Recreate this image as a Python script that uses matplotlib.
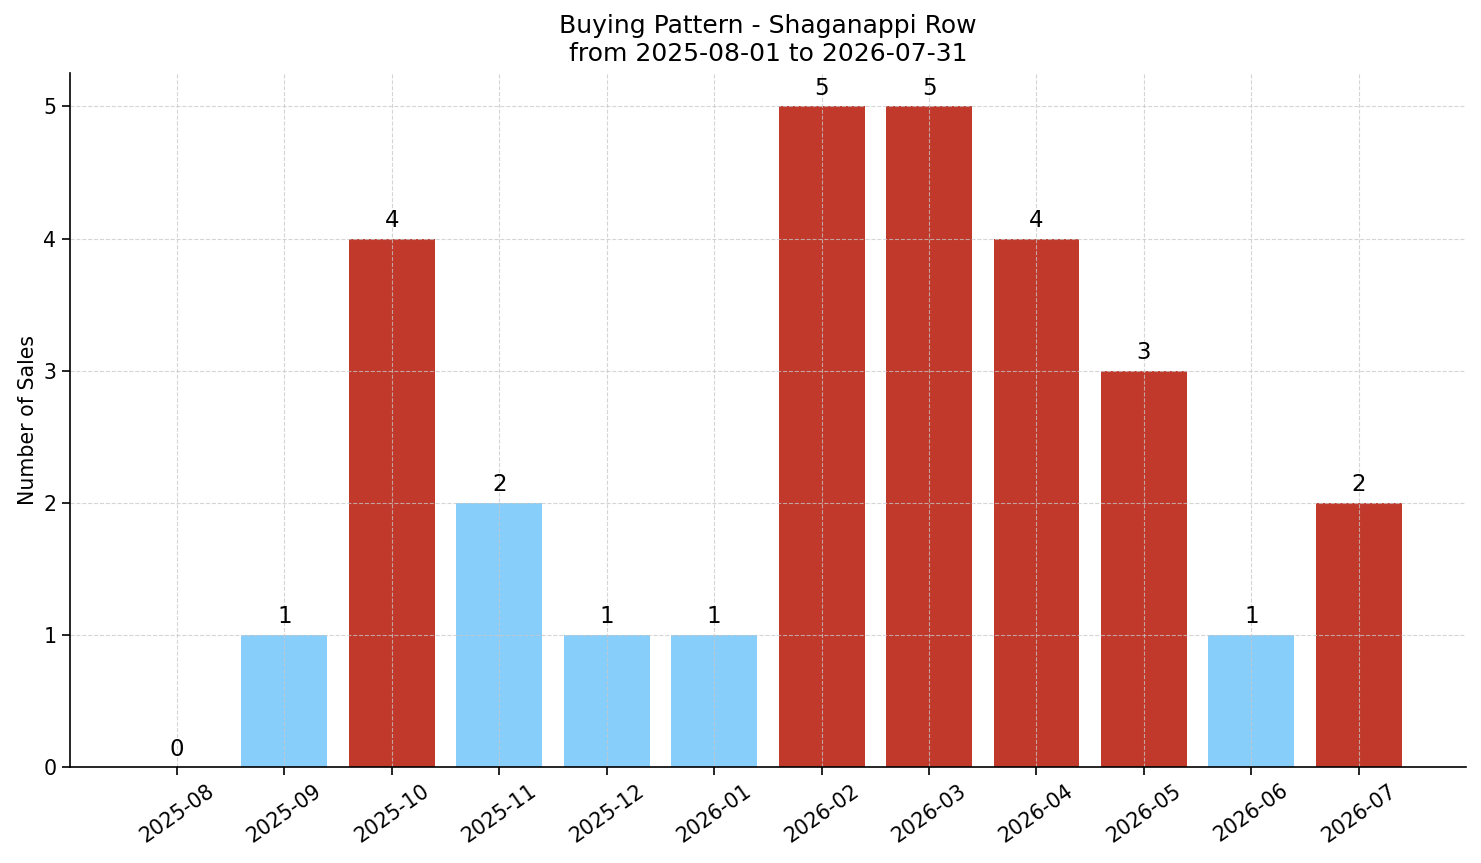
import matplotlib
matplotlib.use("Agg")
import matplotlib.pyplot as plt

months = ["2025-08", "2025-09", "2025-10", "2025-11", "2025-12", "2026-01",
          "2026-02", "2026-03", "2026-04", "2026-05", "2026-06", "2026-07"]
sales = [0, 1, 4, 2, 1, 1, 5, 5, 4, 3, 1, 2]
bar_colors = ["#87CEFA", "#87CEFA", "#C0392B", "#87CEFA", "#87CEFA", "#87CEFA",
              "#C0392B", "#C0392B", "#C0392B", "#C0392B", "#87CEFA", "#C0392B"]

fig, ax = plt.subplots(figsize=(14.81, 8.63), dpi=100)
x = list(range(len(months)))
bars = ax.bar(x, sales, color=bar_colors, width=0.8)
for xi, v in zip(x, sales):
    ax.text(xi, v + 0.05, str(v), ha="center", va="bottom", fontsize=16.5)

ax.set_xticks(x)
ax.set_xticklabels(months, rotation=35, ha="center", fontsize=14.8)
ax.tick_params(axis="y", labelsize=14.8)
ax.tick_params(axis="both", length=6, width=1.2)
ax.set_xlim(-1, 12)
ax.set_ylim(0, 5.25)
ax.set_ylabel("Number of Sales", fontsize=14.8)
ax.set_title("Buying Pattern - Shaganappi Row\nfrom 2025-08-01 to 2026-07-31", fontsize=18, pad=9)
ax.grid(True, linestyle="--", color="#c8c8c8", alpha=0.75, linewidth=0.8)
ax.spines["top"].set_visible(False)
ax.spines["right"].set_visible(False)
ax.spines["left"].set_linewidth(1.2)
ax.spines["bottom"].set_linewidth(1.2)

fig.subplots_adjust(left=0.047, right=0.99, top=0.915, bottom=0.111)
fig.savefig("out.png", dpi=100)
